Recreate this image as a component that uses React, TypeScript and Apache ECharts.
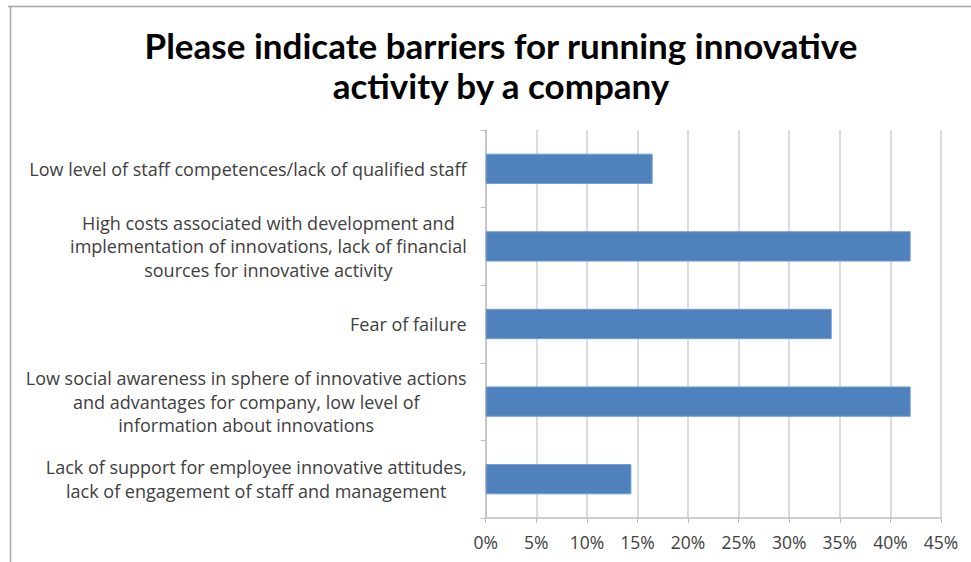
import React, { useEffect, useRef } from "react";
import * as echarts from "echarts";

const titleLines = ["Please indicate barriers for running innovative", "activity by a company"];
const categories = [
  "Low level of staff competences/lack of qualified staff",
  "High costs associated with development and\nimplementation of innovations, lack of financial\nsources for innovative activity",
  "Fear of failure",
  "Low social awareness in sphere of innovative actions\nand advantages for company, low level of\ninformation about innovations",
  "Lack of support for employee innovative attitudes,\nlack of engagement of staff and management",
];
const values = [16.5, 42.0, 34.2, 42.0, 14.4];
const xTicks = [0, 5, 10, 15, 20, 25, 30, 35, 40, 45];

export default function App() {
  const ref = useRef<HTMLDivElement>(null);
  useEffect(() => {
    if (!ref.current) return;
    const chart = echarts.init(ref.current, undefined, { renderer: "svg" });
    const font = "Open Sans";
    chart.setOption({
      animation: false,
      backgroundColor: "#ffffff",
      title: {
        text: titleLines.join("\n"),
        left: 501,
        top: 25,
        padding: 0,
        textAlign: "center",
        textStyle: { fontFamily: "Lato", fontWeight: "bold", fontSize: 35, lineHeight: 40, color: "#000000" },
      },
      graphic: [
        { type: "line", shape: { x1: 8, y1: 6.5, x2: 971, y2: 6.5 }, style: { stroke: "#a6a6a6", lineWidth: 1.5 } },
        { type: "line", shape: { x1: 10.5, y1: 6, x2: 10.5, y2: 562 }, style: { stroke: "#a6a6a6", lineWidth: 1.5 } },
      ],
      grid: { left: 485.7, right: 30, top: 130, bottom: 44, containLabel: false },
      xAxis: {
        type: "value",
        min: 0,
        max: 45,
        interval: 5,
        axisLine: { show: true, lineStyle: { color: "#bfbfbf", width: 1.5 } },
        axisTick: { show: true, length: 5, lineStyle: { color: "#bfbfbf" } },
        splitLine: { show: true, lineStyle: { color: "#d0d0d0", width: 1.5 } },
        axisLabel: {
          margin: 15,
          fontFamily: font,
          fontSize: 17.5,
          color: "#404040",
          formatter: (v: number) => (xTicks.includes(v) ? `${v}%` : ""),
        },
      },
      yAxis: {
        type: "category",
        inverse: true,
        data: categories,
        axisLine: { show: true, lineStyle: { color: "#bfbfbf", width: 1.5 } },
        axisTick: { show: true, length: 5, lineStyle: { color: "#bfbfbf" } },
        axisLabel: {
          margin: 19,
          formatter: (v: string) => v.split("\n").map((l) => `{c|${l}}`).join("\n"),
          rich: {
            c: { align: "center", fontFamily: font, fontSize: 18, lineHeight: 23.5, color: "#404040" },
          },
        },
      },
      series: [
        {
          type: "bar",
          data: values,
          barCategoryGap: "61%",
          itemStyle: { color: "#4f81bd", borderColor: "#6f9bd0", borderWidth: 1 },
        },
      ],
    });
    return () => chart.dispose();
  }, []);
  return (
    <div
      ref={ref}
      style={{ position: "absolute", left: 0, top: 0, width: 971, height: 562 }}
    />
  );
}
